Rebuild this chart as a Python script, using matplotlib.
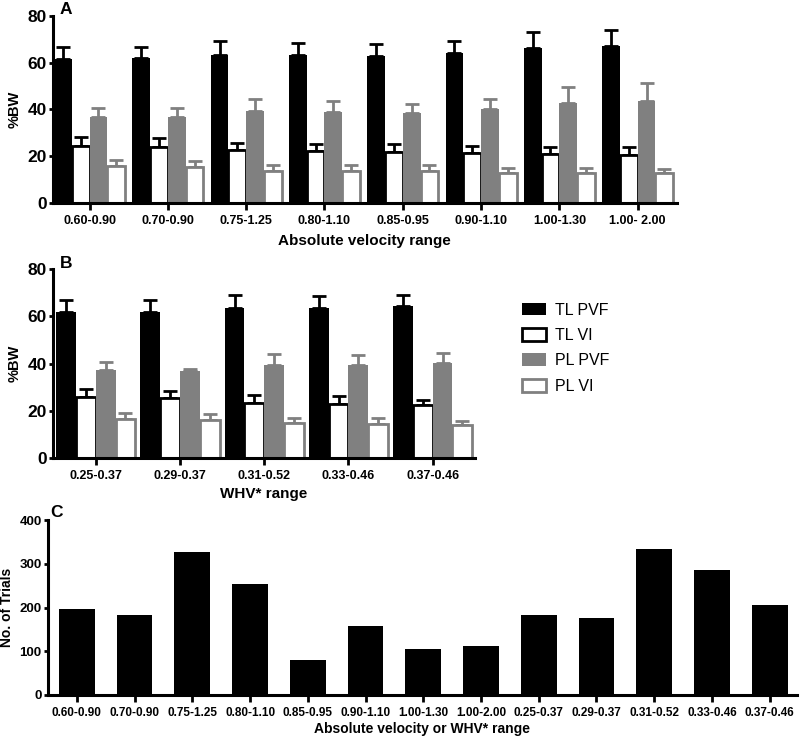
import matplotlib.pyplot as plt
import numpy as np
from matplotlib.patches import Patch

plt.rcParams['font.family'] = ['Liberation Sans', 'DejaVu Sans']
plt.rcParams['font.weight'] = 'bold'
plt.rcParams['axes.labelweight'] = 'bold'

GRAY = '#808080'

# panel A: absolute velocity ranges
velocity_ranges = ["0.60-0.90", "0.70-0.90", "0.75-1.25", "0.80-1.10",
                   "0.85-0.95", "0.90-1.10", "1.00-1.30", "1.00- 2.00"]
a_tl_pvf = [61.7, 62.0, 63.5, 63.2, 62.7, 64.0, 66.4, 67.0]
a_tl_pvf_err = [5.0, 4.8, 5.6, 5.2, 5.4, 5.2, 6.6, 7.0]
a_tl_vi = [24.5, 24.1, 22.5, 22.2, 21.9, 21.2, 20.8, 20.7]
a_tl_vi_err = [3.9, 3.7, 3.3, 3.0, 3.2, 3.2, 3.1, 3.1]
a_pl_pvf = [36.8, 36.6, 39.2, 38.9, 38.3, 40.2, 42.9, 43.7]
a_pl_pvf_err = [3.7, 3.9, 5.2, 4.7, 4.1, 4.4, 6.7, 7.6]
a_pl_vi = [15.7, 15.3, 13.8, 13.8, 13.8, 13.0, 13.0, 12.7]
a_pl_vi_err = [2.5, 2.5, 2.6, 2.5, 2.6, 2.0, 1.9, 2.0]

# panel B: WHV* ranges
whv_ranges = ["0.25-0.37", "0.29-0.37", "0.31-0.52", "0.33-0.46", "0.37-0.46"]
b_tl_pvf = [61.8, 61.8, 63.6, 63.5, 64.3]
b_tl_pvf_err = [5.1, 5.1, 5.4, 5.0, 4.8]
b_tl_vi = [25.7, 25.4, 23.3, 23.1, 22.3]
b_tl_vi_err = [3.5, 3.2, 3.2, 3.0, 2.5]
b_pl_pvf = [37.1, 37.0, 39.4, 39.4, 40.2]
b_pl_pvf_err = [3.8, 0.9, 4.9, 4.3, 4.4]
b_pl_vi = [16.5, 16.2, 14.8, 14.5, 14.0]
b_pl_vi_err = [2.7, 2.6, 2.1, 2.3, 1.5]

# panel C: number of trials per range
all_ranges = ["0.60-0.90", "0.70-0.90", "0.75-1.25", "0.80-1.10", "0.85-0.95",
              "0.90-1.10", "1.00-1.30", "1.00-2.00", "0.25-0.37", "0.29-0.37",
              "0.31-0.52", "0.33-0.46", "0.37-0.46"]
n_trials = [197, 182, 328, 253, 79, 158, 106, 112, 184, 175, 333, 285, 206]

series_names = ["TL PVF", "TL VI", "PL PVF", "PL VI"]
styles = [('black', 'black', 0), ('white', 'black', 2.0),
          (GRAY, GRAY, 0), ('white', GRAY, 2.0)]


def style_axes(ax):
    for s in ['top', 'right']:
        ax.spines[s].set_visible(False)
    for s in ['left', 'bottom']:
        ax.spines[s].set_linewidth(2.2)
    ax.tick_params(axis='x', width=2, length=5, direction='out')
    ax.tick_params(axis='y', width=2, length=3, pad=1.5, direction='out')


def grouped(ax, labels, series, errs, width):
    x = np.arange(len(labels))
    n = len(labels)
    for i, (vals, err) in enumerate(zip(series, errs)):
        fc, ec, lw = styles[i]
        pos = x + (i - 1.5) * width
        ax.errorbar(pos, vals, yerr=[np.zeros(n), err], fmt='none', ecolor=ec,
                    elinewidth=2, capsize=5, capthick=2, zorder=1)
        ax.bar(pos, vals, width, color=fc, edgecolor=ec, linewidth=lw, zorder=2)
    ax.set_xticks(x)
    ax.set_xticklabels(labels, fontsize=9)
    ax.set_ylim(0, 80)
    ax.set_yticks([0, 20, 40, 60, 80])
    ax.tick_params(axis='y', labelsize=12.5)
    ax.set_ylabel('%BW', fontsize=10.5)
    style_axes(ax)


fig = plt.figure(figsize=(8, 7.38), dpi=100)

axA = fig.add_axes([0.066, 0.725, 0.78, 0.2534])
grouped(axA, velocity_ranges, [a_tl_pvf, a_tl_vi, a_pl_pvf, a_pl_vi],
        [a_tl_pvf_err, a_tl_vi_err, a_pl_pvf_err, a_pl_vi_err], 0.227)
axA.set_xlim(-0.47, 7.5)
axA.set_xlabel('Absolute velocity range', fontsize=11, labelpad=5)
axA.yaxis.set_label_coords(-0.0500, 0.5)

axB = fig.add_axes([0.066, 0.3794, 0.5275, 0.2557])
grouped(axB, whv_ranges, [b_tl_pvf, b_tl_vi, b_pl_pvf, b_pl_vi],
        [b_tl_pvf_err, b_tl_vi_err, b_pl_pvf_err, b_pl_vi_err], 0.235)
axB.set_xlim(-0.51, 4.5)
axB.set_xlabel('WHV* range', fontsize=11, labelpad=4)
axB.yaxis.set_label_coords(-0.0740, 0.5)

handles = [Patch(facecolor=fc, edgecolor=ec, linewidth=lw if lw else 0)
           for fc, ec, lw in styles]
fig.legend(handles, series_names, loc='upper left', bbox_to_anchor=(0.652, 0.59),
           frameon=False, prop={'family': 'Liberation Sans', 'weight': 'normal', 'size': 11.5},
           handlelength=1.5, handleheight=0.85, handletextpad=0.6, labelspacing=0.65,
           borderpad=0, borderaxespad=0)

axC = fig.add_axes([0.06, 0.0583, 0.936, 0.237])
xc = np.arange(len(all_ranges))
axC.bar(xc, n_trials, 0.62, color='black')
axC.set_xticks(xc)
axC.set_xticklabels(all_ranges, fontsize=8.5)
axC.set_xlim(-0.5, 12.47)
axC.set_ylim(0, 400)
axC.set_yticks([0, 100, 200, 300, 400])
axC.tick_params(axis='y', labelsize=9.5)
axC.set_ylabel('No. of Trials', fontsize=10)
axC.yaxis.set_label_coords(-0.0454, 0.5)
axC.set_xlabel('Absolute velocity or WHV* range', fontsize=10, labelpad=2.5)
style_axes(axC)

fig.text(60 / 800, 1 - 14 / 738, 'A', fontsize=12.5, fontweight='bold', va='baseline')
fig.text(60 / 800, 1 - 268 / 738, 'B', fontsize=12.5, fontweight='bold', va='baseline')
fig.text(50 / 800, 1 - 517 / 738, 'C', fontsize=12.5, fontweight='bold', va='baseline')

fig.savefig('out.png', dpi=100)
